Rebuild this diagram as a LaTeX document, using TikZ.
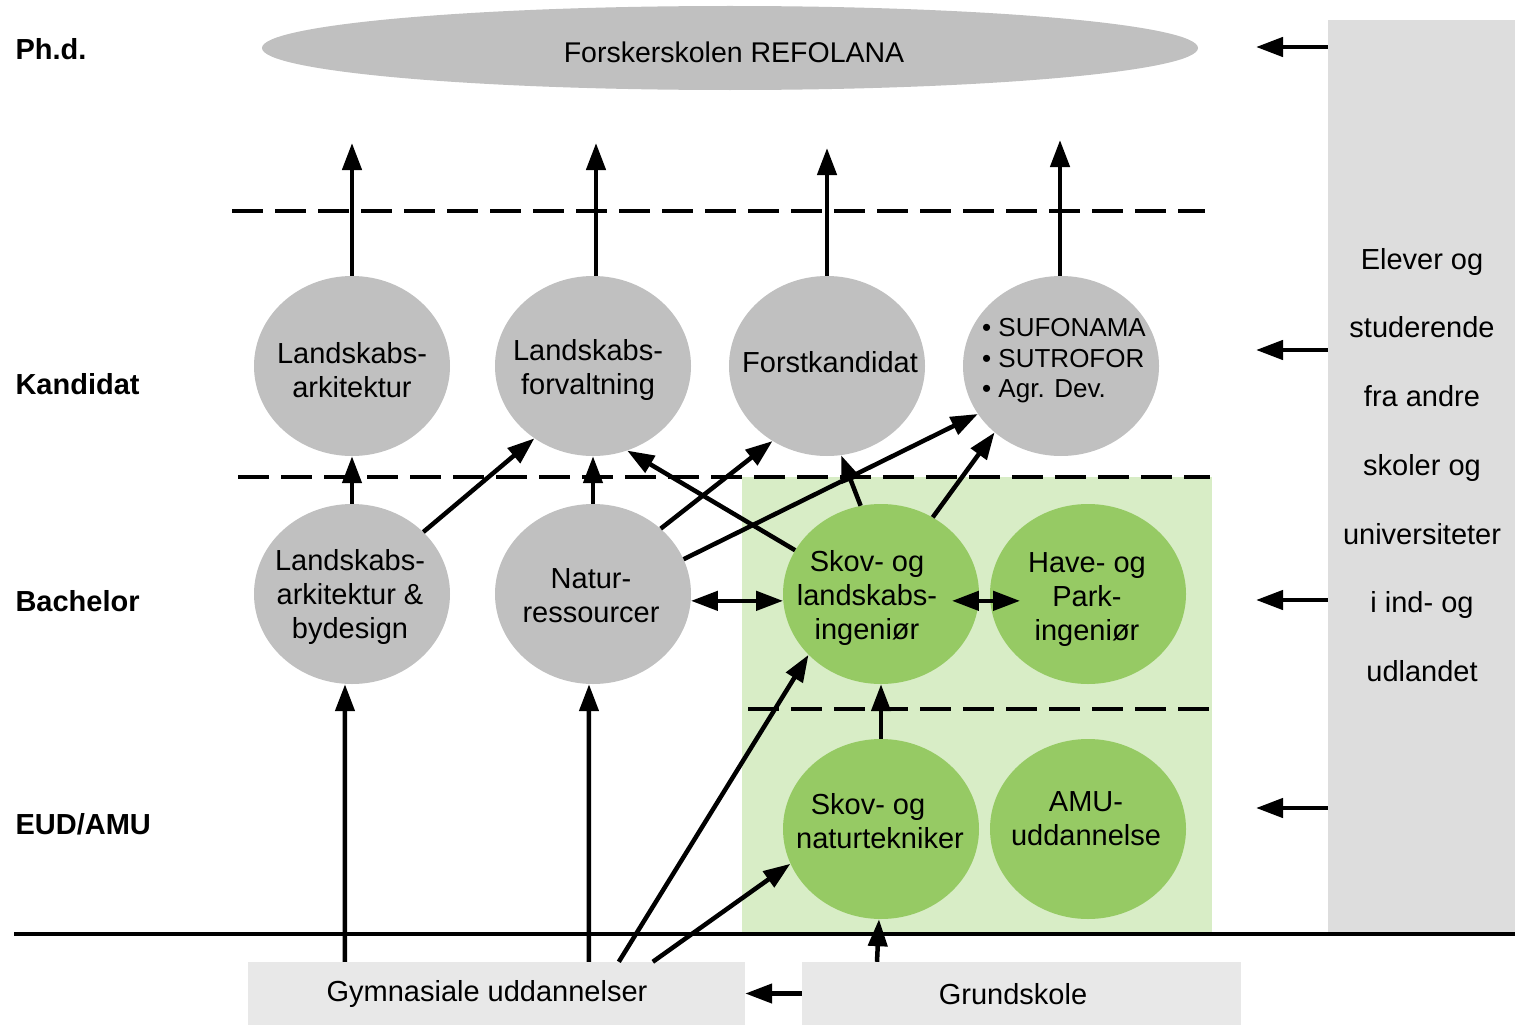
\documentclass[tikz,border=0pt]{standalone}
\usepackage{fontspec}
\setmainfont{Liberation Sans}
\usetikzlibrary{arrows.meta,shapes.geometric,calc}
\definecolor{cgray}{RGB}{192,192,192}
\definecolor{cext}{RGB}{221,221,221}
\definecolor{cbox}{RGB}{232,232,232}
\definecolor{cgreen}{RGB}{150,202,100}
\definecolor{clight}{RGB}{216,237,198}
\tikzset{
  circ/.style={ellipse, minimum width=196pt, minimum height=180pt, inner sep=0pt},
  kcirc/.style={circ, fill=cgray},
  gcirc/.style={circ, fill=cgreen},
  ctxt/.style={align=center, inner sep=0pt, font=\fontsize{29}{34}\selectfont},
  arr/.style={line width=4.5pt, -{Triangle[length=27pt,width=19pt]}},
  darr/.style={line width=4.5pt, {Triangle[length=27pt,width=19pt]}-{Triangle[length=27pt,width=19pt]}},
  dline/.style={line width=4pt, dash pattern=on 31pt off 12pt},
  lvl/.style={anchor=west, font=\bfseries\fontsize{29}{34}\selectfont},
  gbox/.style={fill=cbox, inner sep=0pt, minimum height=63pt, font=\fontsize{29}{34}\selectfont}
}
\begin{document}
\begin{tikzpicture}[x=1pt,y=-1pt]
\useasboundingbox[fill=white] (0,0) rectangle (1515,1025);
% green region
\fill[clight] (742,477) rectangle (1212,932);
% right box
\node[fill=cext, minimum width=187pt, minimum height=912pt, inner sep=0pt] (Ext) at (1421.5,476) {};
\node[align=center, font=\fontsize{29}{68.7}\selectfont] (ExtTxt) at (1422,465) {Elever og\\studerende\\fra andre\\skoler og\\universiteter\\i ind- og\\udlandet};
% level labels
\node[lvl] (Lphd) at (12,49) {Ph.d.};
\node[lvl] (Lkand) at (12,384) {Kandidat};
\node[lvl] (Lbach) at (12,601) {Bachelor};
\node[lvl] (Leud) at (12,824) {EUD/AMU};
% dashed lines
\coordinate (d1a) at (232,211); \coordinate (d1b) at (1205,211);
\coordinate (d2a) at (238,477); \coordinate (d2b) at (1210,477);
\coordinate (d3a) at (748,709); \coordinate (d3b) at (1210,709);
\draw[dline] (d1a) -- (d1b);
\draw[dline] (d2a) -- (d2b);
\draw[dline] (d3a) -- (d3b);
% base line
\coordinate (b1) at (14,934); \coordinate (b2) at (1515,934);
\draw[line width=4pt] (b1) -- (b2);
% top ellipse
\node[ellipse, fill=cgray, minimum width=936pt, minimum height=84pt, inner sep=0pt] (Phd) at (730,48) {};
\node[ctxt, font=\fontsize{28.5}{34}\selectfont] (PhdT) at (734,52) {Forskerskolen REFOLANA};
% kandidat
\node[kcirc] (K1) at (352,366) {};
\node[kcirc] (K2) at (593,366) {};
\node[kcirc] (K3) at (827,366) {};
\node[kcirc] (K4) at (1061,366) {};
\node[ctxt] (K1t) at (352,370) {Landskabs-\\arkitektur};
\node[ctxt] (K2t) at (588,370) {Landskabs-\\forvaltning};
\node[ctxt] (K3t) at (830,362) {Forstkandidat};
\node[align=left, inner sep=0pt, font=\fontsize{26}{30.5}\selectfont] (K4t) at (1064,361) {\textbullet\ SUFONAMA\\\textbullet\ SUTROFOR\\\textbullet\ Agr. Dev.};
% bachelor
\node[kcirc] (B1) at (352,594) {};
\node[kcirc] (B2) at (593,594) {};
\node[gcirc] (B3) at (881,594) {};
\node[gcirc] (B4) at (1088,594) {};
\node[ctxt] (B1t) at (350,597) {Landskabs-\\arkitektur \&\\bydesign};
\node[ctxt] (B2t) at (591,596) {Natur-\\ressourcer};
\node[ctxt] (B3t) at (867,598) {Skov- og\\landskabs-\\ingeniør};
\node[ctxt] (B4t) at (1087,600) {Have- og\\Park-\\ingeniør};
% EUD
\node[gcirc] (E1) at (881,829) {};
\node[gcirc] (E2) at (1088,829) {};
\node[ctxt] (E1t) at (880,821) {Skov- og\hspace*{24pt}\\naturtekniker};
\node[ctxt] (E2t) at (1086,819) {AMU-\\uddannelse};
% bottom boxes
\node[gbox, minimum width=497pt] (Gym) at (496.5,993.5) {};
\node[gbox, minimum width=439pt] (Grund) at (1021.5,993.5) {};
\node[ctxt] (GymT) at (487,994) {Gymnasiale uddannelser};
\node[ctxt] (GrundT) at (1013,994) {Grundskole};
% arrows up to Ph.d.
\coordinate (t1) at (352,143); \coordinate (t2) at (596,143);
\coordinate (t3) at (827,148); \coordinate (t4) at (1060,140);
\draw[arr] (K1.north) -- (t1);
\draw[arr] ([xshift=3pt]K2.north) -- (t2);
\draw[arr] (K3.north) -- (t3);
\draw[arr] ([xshift=-1pt]K4.north) -- (t4);
% bachelor to kandidat
\draw[arr] (B1.north) -- (K1.south);
\draw[arr] (B1.41.6) -- (K2.-129.5);
\draw[arr] (B2.north) -- (K2.south);
\draw[arr] (B2.44.6) -- (K3.-126.4);
\draw[arr] (B2.21.7) -- (K4.-150.5);
\draw[arr] (B3.153) -- (K2.-68.2);
\draw[arr] (B3.103) -- (K3.-81.8);
\draw[arr] (B3.56.3) -- (K4.-135);
% horizontal double arrows
\draw[darr] (B2.-4) -- (B3.184);
\draw[darr, shorten <=-27pt, shorten >=-30pt] (B3.-4) -- (B4.184);
% EUD to bachelor
\draw[arr] (E1.north) -- (B3.south);
% from Gymnasiale
\draw[arr] ($(Gym.north west)+(97,0)$) -- ([xshift=-7pt]B1.south);
\draw[arr] ($(Gym.north west)+(341,0)$) -- ([xshift=-4pt]B2.south);
\draw[arr] ($(Gym.north west)+(371,0)$) -- (B3.220.7);
\draw[arr] ($(Gym.north west)+(405,0)$) -- (E1.201.9);
% from Grundskole
\draw[arr] ([xshift=-4pt]E1.south |- Grund.north) -- ([xshift=-2pt]E1.south);
\draw[arr] (Grund.west) -- (Gym.east);
% arrows from right box
\coordinate (a1) at (1256,47); \coordinate (a2) at (1256,350);
\coordinate (a3) at (1256,600); \coordinate (a4) at (1256,808);
\draw[arr] (Ext.west |- a1) -- (a1);
\draw[arr] (Ext.west |- a2) -- (a2);
\draw[arr] (Ext.west |- a3) -- (a3);
\draw[arr] (Ext.west |- a4) -- (a4);
\end{tikzpicture}
\end{document}
